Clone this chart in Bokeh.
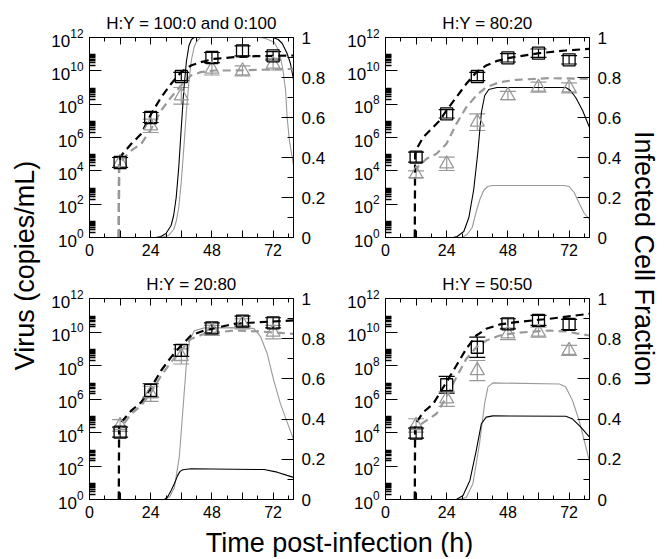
import math
from bokeh.plotting import figure
from bokeh.models import (Range1d, LinearAxis, LinearScale, FixedTicker, Whisker, TeeHead,
                          ColumnDataSource, Label)
from bokeh.layouts import row, column
from bokeh.embed import file_html
from bokeh.resources import INLINE

FONT = "Liberation Sans"
GRAY = "#999999"

# ---------------- data (virus in log10 copies/mL, fraction 0..1) ----------------
t_obs = [12, 24, 36, 48, 60, 72]

# Panel 1: H:Y = 100:0 and 0:100
p1_title = "H:Y = 100:0 and 0:100"
p1_sq = [4.5, 7.2, 9.66, 10.8, 11.2, 10.9]
p1_sq_err = [0.3, 0.3, 0.25, 0.3, 0.3, 0.25]
p1_tri = [4.5, 6.7, 8.5, 10.1, 10.0, 10.4]
p1_tri_err = [0.3, 0.4, 0.5, 0.35, 0.3, 0.35]
p1_vb_t = [11.5, 11.6, 12.5, 16.4, 20.3, 24.2, 28.1, 32.0, 35.9, 39.8, 43.7, 48.9, 56.7, 65.0, 80.0]
p1_vb = [0, 4.6, 4.92, 5.62, 6.22, 7.42, 8.42, 9.22, 9.92, 10.32, 10.52, 10.72, 10.82, 10.88, 10.92]
p1_vg_t = [11.5, 11.6, 12.5, 16.4, 20.3, 24.2, 28.1, 32.0, 35.9, 39.8, 43.7, 48.9, 56.7, 80.0]
p1_vg = [0, 4.4, 4.6, 5.22, 5.62, 6.52, 7.62, 8.42, 9.12, 9.72, 9.92, 10.02, 10.02, 10.12]
p1_fb_t = [26, 28, 30, 32, 33, 34, 35, 36, 37, 38, 39, 40, 41, 72, 74, 75.6, 77.5, 78.8, 80]
p1_fb = [0, 0.005, 0.02, 0.06, 0.11, 0.2, 0.35, 0.55, 0.74, 0.88, 0.96, 0.99, 1.0, 1.0, 0.99, 0.97, 0.92, 0.87, 0.79]
p1_fg_t = [28, 31, 33, 34, 35, 36, 37, 38, 39, 40, 41, 42, 43.5, 67, 69, 72.3, 73.6, 74.9, 75.9, 76.9, 77.5, 78.4, 80]
p1_fg = [0, 0.01, 0.04, 0.08, 0.15, 0.28, 0.45, 0.63, 0.78, 0.89, 0.95, 0.98, 1.0, 1.0, 0.995, 0.977, 0.95, 0.9, 0.835, 0.735, 0.6, 0.485, 0.36]

# Panel 2: H:Y = 80:20
p2_title = "H:Y = 80:20"
p2_sq = [4.82, 7.42, 9.66, 10.78, 11.06, 10.66]
p2_sq_err = [0.3, 0.25, 0.25, 0.25, 0.25, 0.25]
p2_tri = [3.8, 4.42, 6.92, 8.52, 9.02, 8.98]
p2_tri_err = [0.2, 0.4, 0.5, 0.25, 0.3, 0.3]
p2_vb_t = [11.5, 11.6, 12.5, 14.8, 18.7, 21.3, 23.9, 27.8, 31.7, 35.6, 39.5, 43.4, 48.6, 60.3, 70.7, 80.0]
p2_vb = [0, 5.0, 5.4, 6.02, 6.62, 7.02, 7.62, 8.42, 9.22, 9.92, 10.32, 10.58, 10.78, 11.06, 11.22, 11.32]
p2_vg_t = [11.5, 11.6, 13.0, 16.1, 20.0, 23.9, 27.8, 31.7, 35.6, 39.5, 44.8, 51.2, 64.3, 80.0]
p2_vg = [0, 3.9, 4.3, 4.72, 5.02, 5.62, 6.82, 7.82, 8.52, 9.02, 9.32, 9.46, 9.56, 9.52]
p2_fb_t = [26.5, 28.1, 30.7, 32.7, 34.6, 36.2, 37.6, 38.9, 40.5, 43.7, 70.7, 72.5, 74.6, 77.3, 80]
p2_fb = [0, 0.005, 0.03, 0.1, 0.24, 0.425, 0.625, 0.71, 0.74, 0.75, 0.75, 0.735, 0.70, 0.635, 0.55]
p2_fg_t = [30, 32, 34, 35.6, 37, 38.5, 40, 42, 70, 72, 74, 76, 78, 80]
p2_fg = [0, 0.015, 0.05, 0.13, 0.19, 0.235, 0.255, 0.26, 0.26, 0.255, 0.225, 0.17, 0.12, 0.09]

# Panel 3: H:Y = 20:80
p3_title = "H:Y = 20:80"
p3_sq = [4.02, 6.51, 8.9, 10.25, 10.65, 10.55]
p3_sq_err = [0.3, 0.4, 0.35, 0.3, 0.3, 0.3]
p3_tri = [4.42, 6.31, 8.54, 10.09, 10.49, 9.99]
p3_tri_err = [0.35, 0.45, 0.45, 0.3, 0.3, 0.4]
p3_vb_t = [11.5, 11.6, 12.5, 16.4, 20.3, 24.2, 28.1, 32.0, 35.9, 39.8, 45.0, 56.7, 67.1, 80.0]
p3_vb = [0, 4.3, 4.62, 5.31, 5.81, 6.7, 7.7, 8.5, 9.19, 9.79, 10.09, 10.49, 10.59, 10.69]
p3_vg_t = [11.5, 11.6, 12.5, 16.4, 20.3, 24.2, 28.1, 32.0, 35.9, 39.8, 45.0, 56.7, 67.1, 80.0]
p3_vg = [0, 4.1, 4.32, 5.12, 5.61, 6.41, 7.4, 8.2, 8.9, 9.59, 9.89, 10.09, 10.03, 9.89]
p3_fb_t = [29.4, 30.5, 32.0, 33.3, 34.6, 35.5, 36.6, 39.8, 68.4, 73.6, 77.5, 80]
p3_fb = [0, 0.01, 0.045, 0.08, 0.12, 0.14, 0.148, 0.153, 0.149, 0.136, 0.12, 0.11]
p3_fg_t = [29.4, 31.5, 33.3, 35.2, 36.6, 37.9, 39.2, 41.1, 45.0, 62.0, 64.5, 67.1, 69.7, 72.3, 74.9, 77.5, 80]
p3_fg = [0, 0.015, 0.06, 0.21, 0.44, 0.66, 0.79, 0.84, 0.854, 0.855, 0.85, 0.81, 0.725, 0.59, 0.476, 0.385, 0.30]

# Panel 4: H:Y = 50:50
p4_title = "H:Y = 50:50"
p4_sq = [3.96, 6.85, 9.09, 10.49, 10.69, 10.45]
p4_sq_err = [0.3, 0.5, 0.6, 0.3, 0.3, 0.3]
p4_tri = [4.42, 6.01, 7.7, 9.89, 9.99, 8.9]
p4_tri_err = [0.4, 0.45, 0.6, 0.35, 0.3, 0.3]
p4_vb_t = [11.5, 11.6, 12.2, 14.8, 18.7, 23.9, 27.8, 31.7, 35.6, 39.5, 44.8, 51.2, 64.3, 80.0]
p4_vb = [0, 4.3, 4.62, 5.21, 5.71, 7.0, 8.0, 9.0, 9.79, 10.19, 10.45, 10.59, 10.79, 11.09]
p4_vg_t = [11.5, 11.6, 12.2, 16.1, 20.0, 23.9, 27.8, 31.7, 35.6, 39.5, 44.8, 51.2, 64.3, 70.7, 80.0]
p4_vg = [0, 4.1, 4.32, 4.72, 5.12, 6.11, 7.3, 8.4, 9.09, 9.49, 9.79, 9.95, 10.09, 10.03, 9.79]
p4_fb_t = [27.8, 30.4, 33.1, 35.6, 37.6, 39.5, 42.1, 70.7, 73.4, 76.6, 80]
p4_fb = [0, 0.02, 0.095, 0.244, 0.377, 0.41, 0.416, 0.414, 0.40, 0.36, 0.31]
p4_fg_t = [28.4, 31.7, 34.3, 36.9, 38.9, 40.2, 42.1, 68.2, 70.7, 73.4, 76.0, 80]
p4_fg = [0, 0.01, 0.08, 0.28, 0.48, 0.56, 0.58, 0.575, 0.56, 0.49, 0.39, 0.19]

x_major = [0, 12, 24, 36, 48, 60, 72]
x_minor = [6, 18, 30, 42, 54, 66, 78]
x_hidden = {12: "", 36: "", 60: ""}
y_major_exp = [0, 2, 4, 6, 8, 10, 12]
frac_major = [0, 0.2, 0.4, 0.6, 0.8, 1]
frac_minor = [0.1, 0.3, 0.5, 0.7, 0.9]


def pw(vals):
    return [10 ** v for v in vals]


def style_axis(ax, tick_in, minor_in, standoff, size="17px"):
    ax.axis_line_color = "black"
    ax.major_tick_line_color = "black"
    ax.minor_tick_line_color = "black"
    ax.major_tick_in = tick_in
    ax.major_tick_out = 0
    ax.minor_tick_in = minor_in
    ax.minor_tick_out = 0
    ax.major_label_text_font = FONT
    ax.major_label_text_font_size = size
    ax.major_label_text_color = "black"
    ax.major_label_standoff = standoff


def panel(title, sq, sq_err, tri, tri_err, vb_t, vb, vg_t, vg, fb_t, fb, fg_t, fg,
          width, height, bl, bt, br, bb, gray_top):
    p = figure(width=width, height=height, y_axis_type="log",
               x_range=Range1d(0, 80), y_range=Range1d(1, 1e12),
               toolbar_location=None, output_backend="svg",
               min_border_left=bl, min_border_right=br,
               min_border_top=bt, min_border_bottom=bb,
               outline_line_color="black", background_fill_color="white",
               border_fill_color="white", title=title)
    p.title.text_font = FONT
    p.title.text_font_size = "17px"
    p.title.text_font_style = "normal"
    p.title.text_color = "black"
    p.title.align = "center"
    p.title.standoff = 10
    p.grid.visible = False
    p.extra_y_ranges = {"frac": Range1d(0, 1)}
    p.extra_y_scales = {"frac": LinearScale()}

    # bottom axis
    xa = p.xaxis[0]
    xa.ticker = FixedTicker(ticks=x_major, minor_ticks=x_minor)
    xa.major_label_overrides = x_hidden
    style_axis(xa, 7, 4, 6, "16px")
    # top mirror ticks
    top = LinearAxis(ticker=FixedTicker(ticks=x_major, minor_ticks=x_minor))
    style_axis(top, 7, 4, 0)
    top.major_label_overrides = {v: "" for v in x_major}
    top.major_label_text_font_size = "0px"
    top.axis_line_color = None
    p.add_layout(top, "above")

    # left log axis
    ya = p.yaxis[0]
    ya.ticker = FixedTicker(ticks=[10.0 ** e for e in y_major_exp],
                            minor_ticks=[k * 10.0 ** e for e in y_major_exp[:-1] for k in range(2, 10)])
    style_axis(ya, 12, 6, 6)
    ya.minor_tick_line_width = 1.4

    # right fraction axis
    ra = LinearAxis(y_range_name="frac",
                    ticker=FixedTicker(ticks=frac_major, minor_ticks=frac_minor))
    ra.major_label_overrides = {0: "0", 1: "1"}
    style_axis(ra, 12, 6, 8)
    p.add_layout(ra, "right")

    # infected cell fraction (solid)
    p.line(fg_t, fg, y_range_name="frac", line_color=GRAY, line_width=1.1)
    p.line(fb_t, fb, y_range_name="frac", line_color="black", line_width=1.1)

    # virus model (dashed)
    dash = dict(line_width=2.2, line_dash="8 5")
    if gray_top:
        p.line(vb_t, pw(vb), line_color="black", **dash)
        p.line(vg_t, pw(vg), line_color=GRAY, **dash)
    else:
        p.line(vg_t, pw(vg), line_color=GRAY, **dash)
        p.line(vb_t, pw(vb), line_color="black", **dash)

    # data with error bars
    for vals, errs, color, marker, size in ((tri, tri_err, GRAY, "triangle", 14),
                                            (sq, sq_err, "black", "square", 12)):
        src = ColumnDataSource(dict(t=t_obs, y=pw(vals),
                                    lo=[10 ** (v - e) for v, e in zip(vals, errs)],
                                    hi=[10 ** (v + e) for v, e in zip(vals, errs)]))
        w = Whisker(source=src, base="t", lower="lo", upper="hi", line_color=color,
                    line_width=1.2,
                    upper_head=TeeHead(size=16, line_color=color, line_width=1.2),
                    lower_head=TeeHead(size=16, line_color=color, line_width=1.2))
        p.add_layout(w)
        p.scatter("t", "y", source=src, marker=marker, size=size, fill_color=None,
                  line_color=color, line_width=1.3)
    return p


def label_fig(w, h, text, x, y, angle):
    f = figure(width=w, height=h, toolbar_location=None, output_backend="svg",
               x_range=Range1d(0, 1), y_range=Range1d(0, 1), min_border=0,
               outline_line_color=None, x_axis_location=None, y_axis_location=None,
               title=None, border_fill_color="white", background_fill_color="white")
    f.grid.visible = False
    f.add_layout(Label(x=x, y=y, x_units="screen", y_units="screen", text=text,
                       angle=angle, text_align="center", text_baseline="alphabetic",
                       text_font=FONT, text_font_size="27px", text_color="black"))
    return f


tl = panel(p1_title, p1_sq, p1_sq_err, p1_tri, p1_tri_err, p1_vb_t, p1_vb, p1_vg_t, p1_vg,
           p1_fb_t, p1_fb, p1_fg_t, p1_fg, 285, 262, 40, 37, 40, 25, True)
tr = panel(p2_title, p2_sq, p2_sq_err, p2_tri, p2_tri_err, p2_vb_t, p2_vb, p2_vg_t, p2_vg,
           p2_fb_t, p2_fb, p2_fg_t, p2_fg, 291, 262, 52, 37, 34, 25, False)
bl = panel(p3_title, p3_sq, p3_sq_err, p3_tri, p3_tri_err, p3_vb_t, p3_vb, p3_vg_t, p3_vg,
           p3_fb_t, p3_fb, p3_fg_t, p3_fg, 285, 262, 40, 36, 40, 25, False)
br = panel(p4_title, p4_sq, p4_sq_err, p4_tri, p4_tri_err, p4_vb_t, p4_vb, p4_vg_t, p4_vg,
           p4_fb_t, p4_fb, p4_fg_t, p4_fg, 291, 262, 52, 36, 34, 25, False)

left_lab = label_fig(48, 524, "Virus (copies/mL)", 24, 259, math.pi / 2)
right_lab = label_fig(36, 524, "Infected Cell Fraction", 19, 266, -math.pi / 2)
bottom_lab = label_fig(660, 33, "Time post-infection (h)", 339, 15, 0)

layout = column(row(left_lab, column(row(tl, tr), row(bl, br)), right_lab), bottom_lab)

open("out.html", "w").write(file_html(layout, INLINE))
